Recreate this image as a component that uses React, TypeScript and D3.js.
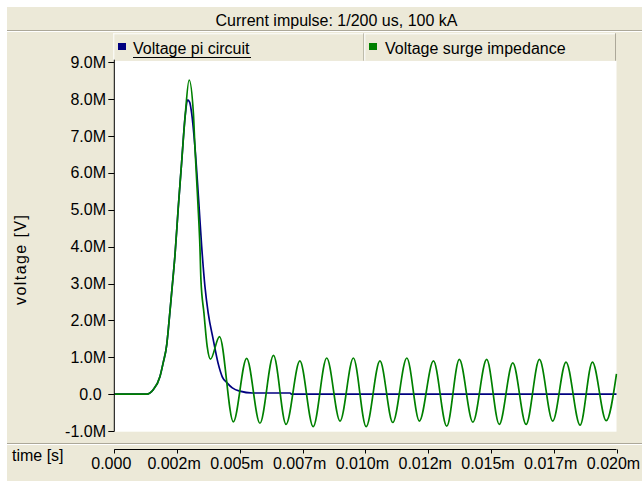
import React from "react";
import * as d3 from "d3";

const titleText = "Current impulse: 1/200 us, 100 kA";
const seriesNames = ["Voltage pi circuit", "Voltage surge impedance"];
const seriesColors = ["#000080", "#008000"];
const xAxisTitle = "time [s]";
const yAxisTitle = "voltage [V]";

// time in microseconds (labels are in ms with "m" suffix)
const xTickValues = [0, 2.5, 5, 7.5, 10, 12.5, 15, 17.5, 20];
const xTickLabels = ["0.000", "0.002m", "0.005m", "0.007m", "0.010m", "0.012m", "0.015m", "0.017m", "0.020m"];
// voltage in MV
const yTickValues = [-1, 0, 1, 2, 3, 4, 5, 6, 7, 8, 9];
const yTickLabels = ["-1.0M", "0.0\u00A0", "1.0M", "2.0M", "3.0M", "4.0M", "5.0M", "6.0M", "7.0M", "8.0M", "9.0M"];

const piTime = [0, 1.29, 1.55, 1.82, 1.95, 2.09, 2.15, 2.29, 2.42, 2.55, 2.68, 2.82, 2.92, 3.0, 3.08, 3.21, 3.35, 3.48, 3.61, 3.74, 3.94, 4.14, 4.3, 4.5, 4.7, 5.0, 5.5, 7.0, 7.05, 20];
const piVolt = [0, 0, 0.12, 0.48, 0.86, 1.35, 1.75, 2.8, 3.8, 5.09, 6.27, 7.53, 7.98, 7.92, 7.62, 6.72, 5.36, 4.0, 2.92, 2.2, 1.48, 0.82, 0.47, 0.3, 0.17, 0.08, 0.03, 0.03, 0, 0];

const surgeTime = [0, 1.29, 1.55, 1.82, 1.95, 2.09, 2.15, 2.29, 2.42, 2.55, 2.68, 2.82, 2.98, 3.15, 3.21, 3.28, 3.35, 3.41, 3.45, 3.57, 3.70, 3.83, 4.19, 4.74,
  5.27, 5.80, 6.34, 6.84, 7.39, 7.92, 8.46, 8.99, 9.52, 10.03, 10.58, 11.09, 11.65, 12.15, 12.71, 13.24, 13.74, 14.28, 14.83, 15.33, 15.87, 16.40, 16.93, 17.46, 17.99, 18.55, 19.04, 19.59, 20];
const surgeVolt = [0, 0, 0.12, 0.48, 0.86, 1.35, 1.75, 2.8, 3.8, 5.09, 6.27, 7.53, 8.52, 7.62, 6.72, 5.81, 4.91, 4.0, 3.1, 2.2, 1.29, 0.95, 1.56, -0.75,
  0.97, -0.79, 1.05, -0.82, 0.9, -0.88, 0.98, -0.73, 0.98, -0.88, 0.9, -0.77, 0.98, -0.73, 0.9, -0.87, 0.94, -0.76, 0.94, -0.82, 0.85, -0.82, 0.94, -0.73, 0.87, -0.84, 0.87, -0.72, 0.55];

const FONT = "'Liberation Sans', Arial, sans-serif";
const BEIGE = "#ECE9D8";
const SHADOW = "#ACA899";

export default function App() {
  const plotL = 114.3, plotR = 616.5, plotT = 60.7, plotB = 431.7;
  const x = d3.scaleLinear().domain([0, 20]).range([plotL, plotR]);
  const y = d3.scaleLinear().domain([-1, 9]).range([431, 62.3]);
  const line = d3
    .line<[number, number]>()
    .x((d) => x(d[0]))
    .y((d) => y(d[1]))
    .curve(d3.curveMonotoneX);
  const piData = piTime.map((t, i) => [t, piVolt[i]] as [number, number]);
  const surgeData = surgeTime.map((t, i) => [t, surgeVolt[i]] as [number, number]);

  const legendItems = [
    { x0: 113.3, x1: 364.3, sq: 118, tx: 133 },
    { x0: 364.3, x1: 616, sq: 369, tx: 385 },
  ];
  const legendTop = 33.3, legendBot = 60.7;
  const axisY = 449.5;

  return (
    <div style={{ position: "fixed", left: 0, top: 0 }}>
      <svg width={642} height={481} style={{ display: "block" }} fontFamily={FONT} fontSize={16}>
        <defs>
          <clipPath id="plotClip">
            <rect x={plotL} y={plotT} width={plotR - plotL + 1} height={plotB - plotT} />
          </clipPath>
        </defs>
        <rect width={642} height={481} fill="#ffffff" />
        <rect x={7} y={7} width={635} height={474} fill={BEIGE} />

        {/* title band */}
        <text x={336.5} y={26} textAnchor="middle" fill="#000">{titleText}</text>
        <line x1={7} x2={642} y1={30.5} y2={30.5} stroke={SHADOW} />
        <line x1={7} x2={642} y1={31.5} y2={31.5} stroke="#ffffff" />

        {/* plot area */}
        <rect x={plotL} y={plotT} width={plotR - plotL} height={plotB - plotT} fill="#ffffff" />

        {/* legend */}
        {legendItems.map((it, i) => (
          <g key={i}>
            <rect x={it.x0} y={legendTop} width={it.x1 - it.x0} height={legendBot - legendTop} fill={BEIGE} />
            <line x1={it.x0} x2={it.x1} y1={legendTop + 0.5} y2={legendTop + 0.5} stroke="#ffffff" />
            <line x1={it.x0 + 0.5} x2={it.x0 + 0.5} y1={legendTop} y2={legendBot} stroke="#ffffff" />
            <line x1={it.x1 - 0.5} x2={it.x1 - 0.5} y1={legendTop} y2={legendBot} stroke={SHADOW} />
            <rect x={it.sq} y={43} width={8} height={7} fill={seriesColors[i]} />
            <text x={it.tx} y={54} fill="#000">{seriesNames[i]}</text>
          </g>
        ))}
        <line x1={133} x2={251} y1={57.5} y2={57.5} stroke="#000" />

        {/* series */}
        <g clipPath="url(#plotClip)" fill="none">
          <path d={line(piData) || ""} stroke={seriesColors[0]} strokeWidth={1.7} />
          <path d={line(surgeData) || ""} stroke={seriesColors[1]} strokeWidth={1.7} />
        </g>

        {/* y axis */}
        <line x1={plotL} x2={plotL} y1={plotT - 1} y2={y(-1) + 0.5} stroke="#000" />
        {yTickValues.map((v, i) => (
          <g key={v}>
            <line x1={plotL - 6} x2={plotL} y1={Math.round(y(v)) + 0.5} y2={Math.round(y(v)) + 0.5} stroke="#000" />
            <text x={106} y={y(v) + 5.5} textAnchor="end" fill="#000">{yTickLabels[i]}</text>
          </g>
        ))}
        <text
          transform={`translate(25.5, 260) rotate(-90)`}
          textAnchor="middle"
          fill="#000"
          textLength={90}
          lengthAdjust="spacing"
        >
          {yAxisTitle}
        </text>

        {/* x axis band */}
        <line x1={7} x2={642} y1={443.5} y2={443.5} stroke={SHADOW} />
        <line x1={7} x2={642} y1={444.5} y2={444.5} stroke="#ffffff" />
        <line x1={plotL} x2={plotR} y1={axisY} y2={axisY} stroke="#000" />
        {xTickValues.map((v, i) => (
          <g key={v}>
            <line x1={Math.round(x(v)) + 0.5} x2={Math.round(x(v)) + 0.5} y1={axisY} y2={axisY + 4} stroke="#000" />
            <text x={x(v) - 3} y={469} textAnchor="middle" fill="#000">{xTickLabels[i]}</text>
          </g>
        ))}
        <text x={12} y={461} fill="#000">{xAxisTitle}</text>
      </svg>
    </div>
  );
}
